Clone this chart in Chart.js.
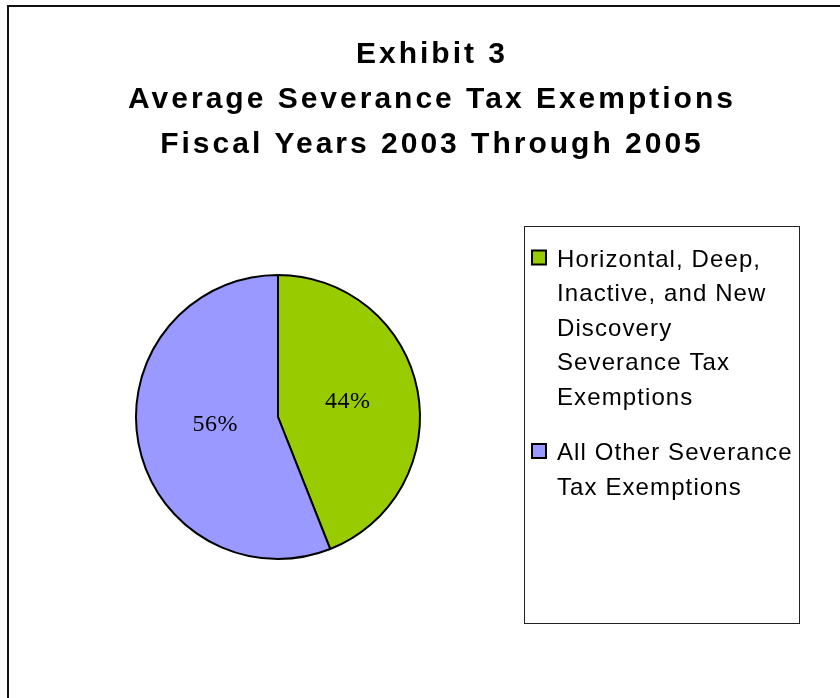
<!DOCTYPE html>
<html>
<head>
<meta charset="utf-8">
<script src="https://cdn.jsdelivr.net/npm/chart.js@4.4.0/dist/chart.umd.min.js"></script>
<style>
  html, body { margin: 0; padding: 0; background: #fff; }
  #wrap { width: 840px; height: 698px; }
</style>
</head>
<body>
<div id="wrap"><canvas id="pie" width="840" height="698"></canvas></div>
<script>
// ---- data ----
const titleLines = ["Exhibit 3", "Average Severance Tax Exemptions", "Fiscal Years 2003 Through 2005"];
const categories = [
  ["Horizontal, Deep,", "Inactive, and New", "Discovery", "Severance Tax", "Exemptions"],
  ["All Other Severance", "Tax Exemptions"]
];
const shares = [44, 56];
const sliceColors = ["#99cc00", "#9999ff"];

// ---- frame, title, legend box (drawn by hand) ----
const decorPlugin = {
  id: "decor",
  beforeDraw(chart) {
    const ctx = chart.ctx;
    ctx.save();
    ctx.fillStyle = "#fff";
    ctx.fillRect(0, 0, chart.width, chart.height);
    // outer frame
    ctx.strokeStyle = "#111";
    ctx.lineWidth = 2;
    ctx.strokeRect(8, 6, 900, 900);
    ctx.restore();
  },
  afterDraw(chart) {
    const ctx = chart.ctx;
    ctx.save();
    // title
    ctx.fillStyle = "#000";
    ctx.font = "bold 30px 'Liberation Sans', Arial, sans-serif";
    ctx.textAlign = "center";
    ctx.textBaseline = "alphabetic";
    ctx.letterSpacing = "3px";
    titleLines.forEach((t, i) => {
      ctx.fillText(t, 432, 63 + i * 45);
    });

    // legend box
    ctx.letterSpacing = "1.1px";
    ctx.strokeStyle = "#222";
    ctx.lineWidth = 1;
    ctx.strokeRect(524.5, 226.5, 275, 397);
    ctx.font = "24px 'Liberation Sans', Arial, sans-serif";
    ctx.textAlign = "left";
    let y = 266.5;
    categories.forEach((lines, i) => {
      ctx.fillStyle = sliceColors[i];
      ctx.fillRect(532, y - 16, 14, 14);
      ctx.strokeStyle = "#000";
      ctx.lineWidth = 2;
      ctx.strokeRect(532, y - 16, 14, 14);
      ctx.fillStyle = "#000";
      lines.forEach((line, j) => {
        ctx.fillText(line, 557, y + j * 34.5);
      });
      y += lines.length * 34.5 + 21;
    });

    // percentage labels
    ctx.letterSpacing = "0.5px";
    ctx.font = "24px 'Liberation Serif', 'Times New Roman', serif";
    ctx.textAlign = "center";
    ctx.textBaseline = "middle";
    const meta = chart.getDatasetMeta(0);
    meta.data.forEach((arc, i) => {
      const p = arc.tooltipPosition();
      ctx.fillText(shares[i] + "%", p.x + (i === 1 ? 7 : 0), p.y - (i === 1 ? 6 : 2));
    });
    ctx.restore();
  }
};

new Chart(document.getElementById("pie"), {
  type: "pie",
  data: {
    labels: categories,
    datasets: [{
      data: shares,
      backgroundColor: sliceColors,
      borderColor: "#000",
      borderWidth: 2
    }]
  },
  options: {
    responsive: false,
    animation: false,
    layout: { padding: { left: 135, right: 419, top: 274, bottom: 138 } },
    plugins: {
      legend: { display: false },
      title: { display: false },
      tooltip: { enabled: false }
    }
  },
  plugins: [decorPlugin]
});
</script>
</body>
</html>
